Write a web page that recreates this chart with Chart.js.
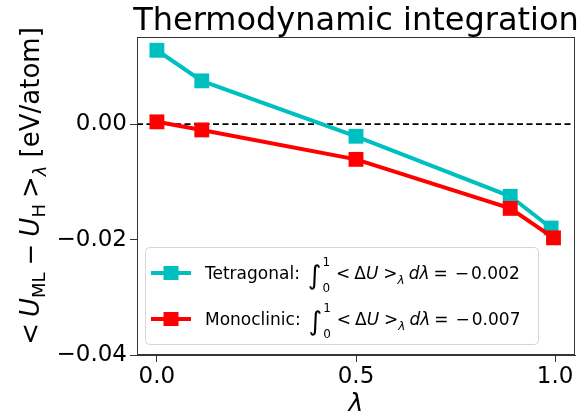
<!DOCTYPE html>
<html>
<head>
<meta charset="utf-8">
<script src="https://cdn.jsdelivr.net/npm/chart.js@4/dist/chart.umd.min.js"></script>
<style>
  html, body { margin: 0; padding: 0; background: #fff; }
  #wrap { width: 588px; height: 419px; }
</style>
</head>
<body>
<div id="wrap"><canvas id="chart"></canvas></div>
<script>
// lambda points (Gauss-Legendre-ish nodes plus the ends)
const lambdaTet = [0, 0.1127, 0.5, 0.8873, 0.99];
const lambdaMono = [0, 0.1127, 0.5, 0.8873, 0.996];
// <U_ML - U_H>_lambda  [eV/atom]
const tetragonal = [0.0128, 0.0075, -0.0021, -0.0125, -0.0180];
const monoclinic = [0.0004, -0.0010, -0.0061, -0.0146, -0.0197];
const seriesNames = ['Tetragonal', 'Monoclinic'];
const integrals = ['0.002', '0.007'];
const xTicks = [0, 0.5, 1.0];
const yTicks = [-0.04, -0.02, 0.0];

const CYAN = '#00bfbf';
const RED = '#ff0000';
const FONT = "'DejaVu Sans'";

function pts(xs, ys) {
  return xs.map((x, i) => ({x: x, y: ys[i]}));
}

// text pieces: {t, it, sub, sup, size, dx}
function richWidth(ctx, parts, base) {
  let w = 0;
  parts.forEach(p => {
    ctx.font = (p.it ? 'oblique ' : '') + (p.size || base) + 'px ' + FONT;
    if (!p.sup) w += ctx.measureText(p.t).width;
    w += (p.dx || 0);
  });
  return w;
}
function drawRich(ctx, parts, x, y, base) {
  let cx = x;
  let lastX = x;
  parts.forEach(p => {
    const sz = p.size || base;
    ctx.font = (p.it ? 'oblique ' : '') + sz + 'px ' + FONT;
    let yy = y;
    if (p.sub) yy = y + base * p.sub;
    if (p.sup) yy = y - base * p.supOff;
    const px = p.sup ? lastX : cx;
    ctx.fillText(p.t, px, yy);
    if (!p.sup) {
      lastX = cx;
      cx += ctx.measureText(p.t).width;
    }
    cx += (p.dx || 0);
  });
}

const decor = {
  id: 'decor',
  beforeDatasetsDraw(chart) {
    const ctx = chart.ctx;
    const a = chart.chartArea;
    const y0 = chart.scales.y.getPixelForValue(0);
    ctx.save();
    ctx.strokeStyle = '#000';
    ctx.lineWidth = 1.6;
    ctx.setLineDash([6, 3.5]);
    ctx.beginPath();
    ctx.moveTo(a.left, y0);
    ctx.lineTo(a.right, y0);
    ctx.stroke();
    ctx.restore();
  },
  afterDraw(chart) {
    const ctx = chart.ctx;
    const a = chart.chartArea;
    ctx.save();
    // frame
    ctx.strokeStyle = '#333';
    ctx.lineWidth = 1;
    ctx.strokeRect(Math.round(a.left) + 0.5, Math.round(a.top) + 0.5,
      Math.round(a.right - a.left) - 1, Math.round(a.bottom - a.top) - 1);

    ctx.fillStyle = '#000';
    ctx.textBaseline = 'alphabetic';
    // title
    ctx.font = '32px ' + FONT;
    ctx.textAlign = 'center';
    ctx.fillText('Thermodynamic integration', (a.left + a.right) / 2, 30);

    // x title
    ctx.font = 'oblique 25px ' + FONT;
    ctx.fillText('\u03bb', (a.left + a.right) / 2, 411);

    // y title (rotated)
    ctx.textAlign = 'left';
    const yParts = [
      {t: '<', dx: 6},
      {t: 'U', it: 1},
      {t: 'ML', size: 18, sub: 0.22, dx: 7},
      {t: '\u2212', dx: 7},
      {t: 'U', it: 1},
      {t: 'H', size: 18, sub: 0.22, dx: 6},
      {t: '>'},
      {t: '\u03bb', it: 1, size: 18, sub: 0.28},
      {t: ' [eV/atom]'}
    ];
    const yb = 26;
    const w = richWidth(ctx, yParts, yb);
    ctx.translate(39, 186);
    ctx.rotate(-Math.PI / 2);
    drawRich(ctx, yParts, -w / 2, 0, yb);
    ctx.setTransform(1, 0, 0, 1, 0, 0);

    // legend
    const lx = 145, ly = 247, lw = 393, lh = 97;
    ctx.fillStyle = 'rgba(255,255,255,0.8)';
    ctx.strokeStyle = '#d6d6d6';
    ctx.lineWidth = 1;
    ctx.beginPath();
    ctx.roundRect(lx + 0.5, ly + 0.5, lw, lh, 4);
    ctx.fill();
    ctx.stroke();
    const colors = [CYAN, RED];
    const rows = [273, 319];
    rows.forEach((ry, i) => {
      ctx.strokeStyle = colors[i];
      ctx.lineWidth = 4;
      ctx.beginPath();
      ctx.moveTo(151, ry);
      ctx.lineTo(191, ry);
      ctx.stroke();
      ctx.fillStyle = colors[i];
      ctx.fillRect(171 - 7.5, ry - 7, 15, 14);
      ctx.fillStyle = '#000';
      const base = 17;
      const parts = [
        {t: seriesNames[i] + ':', dx: 8},
        {t: '\u222b', size: 26, sub: 0.27, dx: 1},
        {t: '0', size: 12, sub: 0.75, dx: 6},
        {t: '1', size: 12, sup: 1, supOff: 0.75},
        {t: '<', dx: 4},
        {t: '\u0394', dx: 0},
        {t: 'U', it: 1, dx: 5},
        {t: '>', dx: 0},
        {t: '\u03bb', it: 1, size: 12, sub: 0.3, dx: 4},
        {t: 'd\u03bb', it: 1, dx: 4},
        {t: '=', dx: 7},
        {t: '\u2212', dx: 2},
        {t: integrals[i]}
      ];
      drawRich(ctx, parts, 205, ry + 6, base);
    });
    ctx.restore();
  }
};

const data = {
  datasets: [
    {
      label: seriesNames[0],
      data: pts(lambdaTet, tetragonal),
      borderColor: CYAN,
      backgroundColor: CYAN,
      borderWidth: 4,
      showLine: true,
      pointStyle: 'rect',
      pointRadius: 10.5,
      pointBorderWidth: 0,
      order: 1
    },
    {
      label: seriesNames[1],
      data: pts(lambdaMono, monoclinic),
      borderColor: RED,
      backgroundColor: RED,
      borderWidth: 4,
      showLine: true,
      pointStyle: 'rect',
      pointRadius: 10.5,
      pointBorderWidth: 0,
      order: 0
    }
  ]
};

const tickFont = {family: 'DejaVu Sans', size: 23};

new Chart(document.getElementById('chart'), {
  type: 'scatter',
  data: data,
  options: {
    responsive: true,
    maintainAspectRatio: false,
    animation: false,
    devicePixelRatio: 1,
    layout: {padding: {top: 37, right: 13, left: 0, bottom: 0}},
    plugins: {legend: {display: false}, tooltip: {enabled: false}},
    scales: {
      x: {
        type: 'linear',
        min: -0.05,
        max: 1.05,
        afterBuildTicks: s => { s.ticks = xTicks.map(v => ({value: v})); },
        afterFit: s => { s.height = 64; },
        ticks: {
          font: tickFont,
          color: '#000',
          padding: 1,
          maxRotation: 0,
          callback: v => v.toFixed(1)
        },
        grid: {drawOnChartArea: false, tickLength: 7, color: '#333'},
        border: {color: '#333'}
      },
      y: {
        type: 'linear',
        min: -0.04,
        max: 0.0151,
        afterBuildTicks: s => { s.ticks = yTicks.map(v => ({value: v})); },
        afterFit: s => { s.width = 137; },
        ticks: {
          font: tickFont,
          color: '#000',
          padding: 3,
          callback: v => (v < 0 ? '\u2212' : '') + Math.abs(v).toFixed(2)
        },
        grid: {drawOnChartArea: false, tickLength: 7, color: '#333'},
        border: {color: '#333'}
      }
    }
  },
  plugins: [decor]
});
</script>
</body>
</html>
